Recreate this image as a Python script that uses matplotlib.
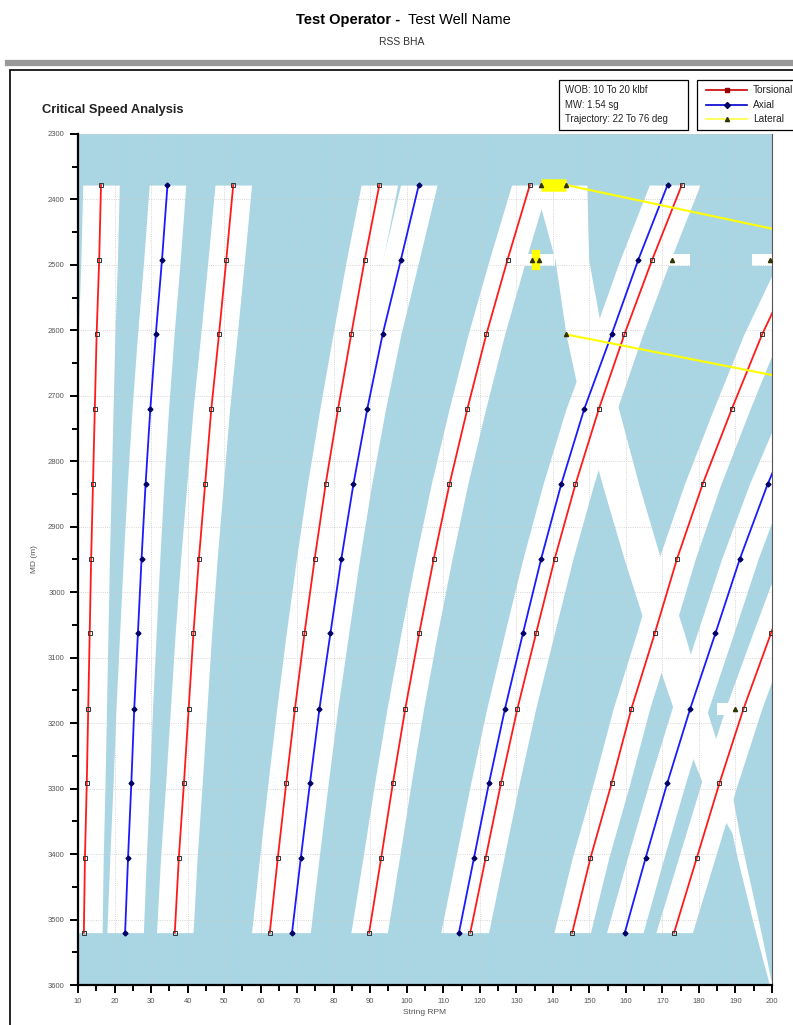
import numpy as np
import matplotlib.pyplot as plt
from matplotlib.lines import Line2D

plt.rcParams['font.family'] = ['Liberation Sans', 'DejaVu Sans']

# --- data ---
depth = [2378, 2492, 2606, 2720, 2835, 2949, 3063, 3178, 3292, 3406, 3520]

tors_1 = [16.3, 15.8, 15.1, 14.6, 14.1, 13.6, 13.2, 12.8, 12.4, 11.9, 11.6]
tors_2 = [52.5, 50.6, 48.6, 46.5, 44.8, 43.1, 41.6, 40.3, 39.0, 37.6, 36.5]
tors_3 = [92.5, 88.5, 84.8, 81.2, 77.8, 74.8, 72.0, 69.4, 67.0, 64.7, 62.5]
tors_4 = [133.7, 127.6, 121.8, 116.6, 111.7, 107.4, 103.4, 99.6, 96.2, 93.0, 89.7]
tors_5 = [175.3, 167.2, 159.6, 152.6, 146.2, 140.5, 135.4, 130.3, 125.8, 121.6, 117.4]
tors_6 = [216.5, 207.0, 197.3, 189.0, 181.0, 174.0, 167.9, 161.5, 156.1, 150.3, 145.3]
tors_7 = [258.0, 246.8, 235.5, 225.2, 215.6, 207.3, 199.7, 192.2, 185.6, 179.4, 173.2]

axial_1 = [34.5, 33.0, 31.3, 29.8, 28.5, 27.4, 26.4, 25.4, 24.6, 23.7, 22.9]
axial_2 = [103.3, 98.4, 93.4, 89.2, 85.4, 82.1, 79.1, 76.1, 73.5, 71.0, 68.6]
axial_3 = [171.4, 163.4, 156.1, 148.6, 142.3, 136.8, 131.8, 126.9, 122.5, 118.4, 114.3]
axial_4 = [238.0, 227.6, 217.2, 207.6, 198.8, 191.2, 184.5, 177.6, 171.3, 165.4, 159.7]

band_half = 5.0  # rpm either side of each critical speed

# lateral critical points and the segments joining them
lat_rpm = [136.8, 143.7, 134.4, 136.2, 172.6, 199.4, 143.5, 189.9]
lat_depth = [2378, 2378, 2492, 2492, 2492, 2492, 2606, 3178]
lat_seg_a_rpm = [143.7, 240.0]
lat_seg_a_depth = [2378, 2492]
lat_seg_b_rpm = [143.5, 247.0]
lat_seg_b_depth = [2606, 2720]
lat_blob_rpm = [136.8, 143.7]
lat_blob_depth = [2378, 2378]
lat_dot_rpm = [135.4, 135.4]
lat_dot_depth = [2483, 2502]

# lateral band (white) running down-right from the top cluster
lat_band_depth = [2378, 2492, 2606, 2720, 2835, 2949, 3063, 3178, 3292, 3367, 3406, 3520, 3600]
lat_band_left = [135.0, 140.6, 143.6, 148.0, 153.5, 159.5, 166.0, 173.0, 181.0, 189.0,
                 190.5, 195.5, 199.3]
lat_band_right = [149.3, 149.8, 153.5, 158.0, 163.5, 169.5, 176.0, 182.0, 188.5, 191.0,
                  192.5, 197.0, 200.0]

# short horizontal lateral bands around isolated points
bar_rpm = [135.6, 172.6, 199.4, 189.9]
bar_depth = [2492, 2492, 2492, 3178]
bar_tall = 9

tors_all = [tors_1, tors_2, tors_3, tors_4, tors_5, tors_6, tors_7]
axial_all = [axial_1, axial_2, axial_3, axial_4]

fig = plt.figure(figsize=(7.93, 10.25), dpi=100)
ax = fig.add_axes([78 / 793, 1 - 985 / 1025, (772 - 78) / 793, (985 - 134) / 1025])
ax.set_facecolor('#aad6e3')

d = np.array(depth)
for s in tors_all + axial_all:
    v = np.array(s)
    ax.fill_betweenx(d, v - band_half, v + band_half, color='white', lw=0, zorder=1)

ax.fill_betweenx(lat_band_depth, lat_band_left, lat_band_right, color='white', lw=0, zorder=1)
for r, dd in zip(bar_rpm, bar_depth):
    ax.fill_between([r - band_half, r + band_half], dd - bar_tall, dd + bar_tall,
                    color='white', lw=0, zorder=1)

ax.set_axisbelow('line')
ax.grid(True, which='major', color='#c8c8c8', lw=0.6, ls=':')

for s in tors_all:
    ax.plot(s, depth, color='#ff1a1a', lw=1.3, marker='s', ms=3.5, mfc='none',
            mec='#333333', mew=0.7, zorder=3)
for s in axial_all:
    ax.plot(s, depth, color='#1a1aff', lw=1.3, marker='D', ms=2.5, mfc='#000066',
            mec='#000066', zorder=3)

ax.plot(lat_blob_rpm, lat_blob_depth, color='#ffff00', lw=9, solid_capstyle='butt', zorder=3)
ax.plot(lat_dot_rpm, lat_dot_depth, color='#ffff00', lw=6, zorder=3)
ax.plot(lat_seg_a_rpm, lat_seg_a_depth, color='#ffff00', lw=1.5, zorder=3)
ax.plot(lat_seg_b_rpm, lat_seg_b_depth, color='#ffff00', lw=1.5, zorder=3)
ax.plot(lat_rpm, lat_depth, ls='none', marker='^', ms=3, mfc='#333300', mec='#333300', zorder=4)

ax.set_xlim(10, 200)
ax.set_ylim(3600, 2300)
ax.set_xticks(np.arange(10, 201, 10))
ax.set_xticks(np.arange(15, 200, 10), minor=True)
ax.set_yticks(np.arange(2300, 3601, 100))
ax.set_yticks(np.arange(2350, 3600, 100), minor=True)
ax.tick_params(which='both', direction='out', colors='black', labelcolor='#555555',
               labelsize=5.5, width=1.4)
ax.tick_params(which='major', length=6)
ax.tick_params(which='minor', length=4.5)
for sp in ['left', 'bottom']:
    ax.spines[sp].set_linewidth(1.6)
ax.spines['top'].set_visible(False)
ax.spines['right'].set_color('#555555')
ax.spines['right'].set_linewidth(0.8)
ax.set_xlabel('String RPM', fontsize=6, color='#555555', labelpad=3)
ax.set_ylabel('MD (m)', fontsize=6, color='#555555', labelpad=7)

# header
fig.text(400 / 793, 1 - 20 / 1025, 'Test Operator -', fontsize=10.5, weight='bold',
         ha='right', va='center')
fig.text(408 / 793, 1 - 20 / 1025, 'Test Well Name', fontsize=10.5, ha='left', va='center')
fig.text(402 / 793, 1 - 42 / 1025, 'RSS BHA', fontsize=7.5, ha='center', va='center',
         color='#333333')
fig.add_artist(plt.Line2D([8 / 793, 1], [1 - 63 / 1025] * 2, color='#999999', lw=4.5))
fig.add_artist(plt.Rectangle((10 / 793, -0.01), 1, 1 - 70 / 1025 + 0.01, fill=False,
                             ec='black', lw=1.2))
fig.text(42 / 793, 1 - 110 / 1025, 'Critical Speed Analysis', fontsize=9.3,
         weight='bold', va='center', color='#222222')

# info box
fig.add_artist(plt.Rectangle((559 / 793, 1 - 130 / 1025), 129 / 793, 50 / 1025,
                             fill=False, ec='black', lw=0.9))
for i, t in enumerate(['WOB: 10 To 20 klbf', 'MW: 1.54 sg', 'Trajectory: 22 To 76 deg']):
    fig.text(565 / 793, 1 - (90 + i * 14.5) / 1025, t, fontsize=6.9, va='center',
             color='#222222')

# legend box
fig.add_artist(plt.Rectangle((697 / 793, 1 - 130 / 1025), 110 / 793, 50 / 1025,
                             fill=False, ec='black', lw=0.9))
leg_items = [('Torsional', '#cc0000', 's', '#990000'), ('Axial', '#0000cc', 'D', '#000066'),
             ('Lateral', '#ffff44', '^', '#333300')]
for i, (lab, c, m, mc) in enumerate(leg_items):
    yy = 1 - (90 + i * 14.5) / 1025
    fig.add_artist(Line2D([706 / 793, 747 / 793], [yy, yy], color=c, lw=1.2))
    fig.add_artist(Line2D([727 / 793], [yy], marker=m, ms=3, color=mc, mfc=mc, mec=mc))
    fig.text(753 / 793, yy, lab, fontsize=7.3, va='center', color='#222222')

fig.savefig('out.png', dpi=100)
